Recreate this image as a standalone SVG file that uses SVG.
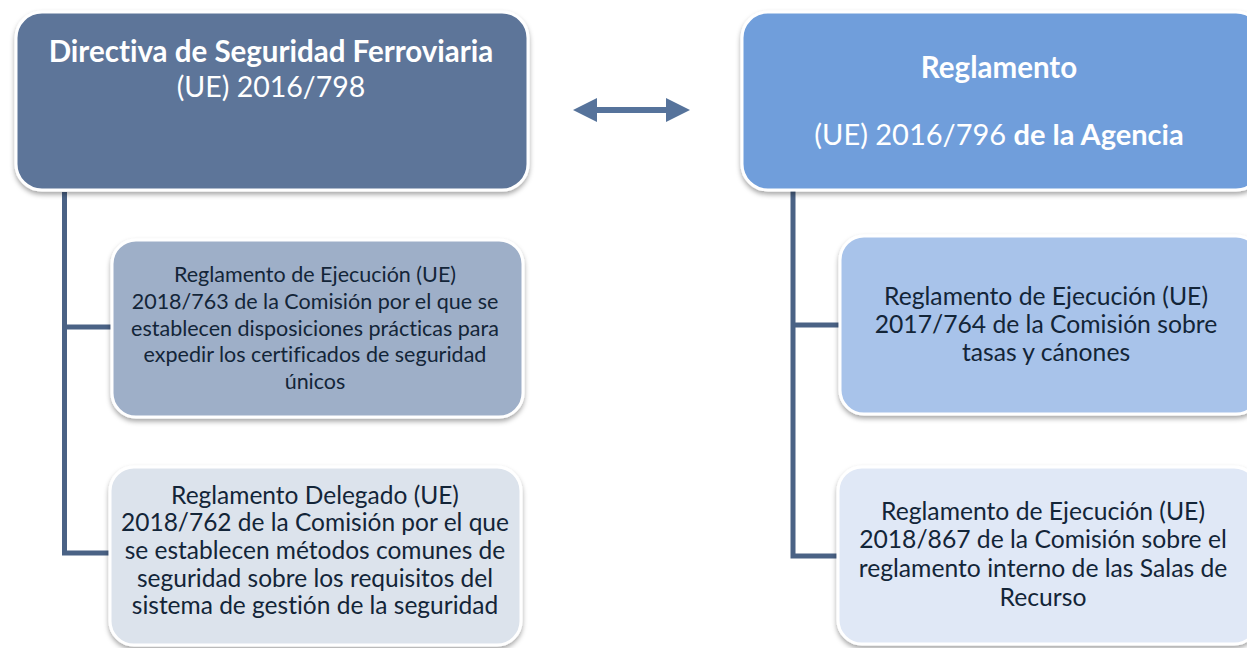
<svg xmlns="http://www.w3.org/2000/svg" width="1247" height="648" viewBox="0 0 1247 648">
<defs>
<filter id="sh" x="-10%" y="-10%" width="120%" height="130%">
<feDropShadow dx="0" dy="3" stdDeviation="2.5" flood-color="#000" flood-opacity="0.35"/>
</filter>
<style>
.box{stroke:#fff;stroke-width:3;filter:url(#sh)}
.conn{fill:none;stroke:#4a6285;stroke-width:5}
.t{font-family:Lato,"Open Sans","Liberation Sans",sans-serif;text-anchor:middle;font-variant-ligatures:none;font-feature-settings:"liga" 0,"dlig" 0}
.w{fill:#fff}
.d{fill:#132538}
.b{font-weight:bold}
</style>
</defs>
<rect width="1247" height="648" fill="#fff"/>
<g id="connectors">
<path class="conn" d="M64.5 192 V553 H112"/>
<path class="conn" d="M64.5 327 H114"/>
<path class="conn" d="M793 190 V556 H838"/>
<path class="conn" d="M793 325 H840"/>
<polygon id="double-arrow" fill="#56739b" points="573,110 597,98 597,107 666,107 666,98 690,110 666,122 666,113 597,113 597,122"/>
</g>
<g id="directiva">
<rect class="box" x="16" y="12" width="512" height="178" rx="26" fill="#5d7599"/>
<text class="t w b" x="271" y="62" font-size="29.5">Directiva de Seguridad Ferroviaria</text>
<text class="t w" x="271" y="97" font-size="28.5">(UE) 2016/798</text>
</g>
<g id="reglamento-agencia">
<rect class="box" x="742" y="12" width="520" height="178" rx="26" fill="#6f9edb"/>
<text class="t w b" x="999" y="78" font-size="29.5">Reglamento</text>
<text class="t w" x="999" y="145" font-size="29">(UE) 2016/796 <tspan class="b">de la Agencia</tspan></text>
</g>
<g id="reg-2018-763">
<rect class="box" x="112" y="240" width="411" height="177" rx="24" fill="#9eafc8"/>
<text class="t d" x="315" font-size="21.5"><tspan x="315" y="282">Reglamento de Ejecución (UE)</tspan><tspan x="315" y="309">2018/763 de la Comisión por el que se</tspan><tspan x="315" y="336">establecen disposiciones prácticas para</tspan><tspan x="315" y="362">expedir los certificados de seguridad</tspan><tspan x="315" y="389">únicos</tspan></text>
</g>
<g id="reg-2018-762">
<rect class="box" x="110" y="467" width="411" height="178" rx="24" fill="#dce3ec"/>
<text class="t d" x="315" font-size="24.5"><tspan x="315" y="504">Reglamento Delegado (UE)</tspan><tspan x="315" y="531">2018/762 de la Comisión por el que</tspan><tspan x="315" y="559">se establecen métodos comunes de</tspan><tspan x="315" y="587">seguridad sobre los requisitos del</tspan><tspan x="315" y="614">sistema de gestión de la seguridad</tspan></text>
</g>
<g id="reg-2017-764">
<rect class="box" x="840" y="236" width="420" height="178" rx="24" fill="#a8c3ea"/>
<text class="t d" x="1046" font-size="24.7"><tspan x="1046" y="305">Reglamento de Ejecución (UE)</tspan><tspan x="1046" y="333">2017/764 de la Comisión sobre</tspan><tspan x="1046" y="361">tasas y cánones</tspan></text>
</g>
<g id="reg-2018-867">
<rect class="box" x="838" y="467" width="420" height="177" rx="24" fill="#e0e8f6"/>
<text class="t d" x="1043" font-size="24.7"><tspan x="1043" y="520">Reglamento de Ejecución (UE)</tspan><tspan x="1043" y="548">2018/867 de la Comisión sobre el</tspan><tspan x="1043" y="577">reglamento interno de las Salas de</tspan><tspan x="1043" y="606">Recurso</tspan></text>
</g>
</svg>
